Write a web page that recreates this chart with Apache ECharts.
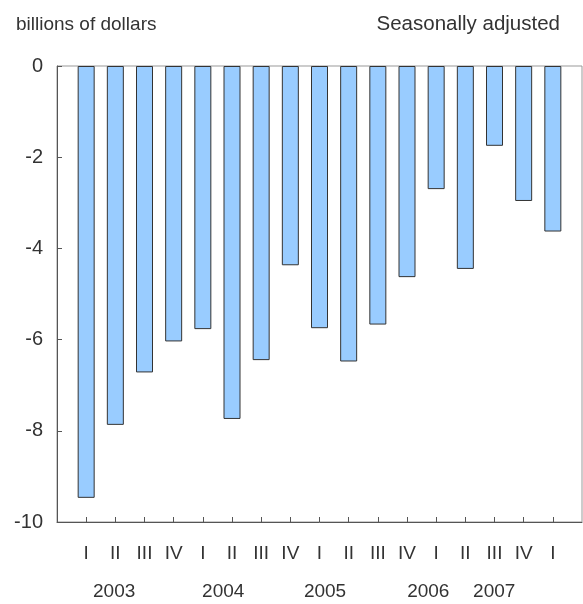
<!DOCTYPE html>
<html>
<head>
<meta charset="utf-8">
<script src="https://cdn.jsdelivr.net/npm/echarts@6/dist/echarts.min.js"></script>
<style>
html,body{margin:0;padding:0;background:#fff;}
#chart{width:583px;height:604px;}
</style>
</head>
<body>
<div id="chart"></div>
<script>
const quarters = ['I','II','III','IV','I','II','III','IV','I','II','III','IV','I','II','III','IV','I'];
const values = [-9.47,-7.87,-6.72,-6.04,-5.77,-7.74,-6.45,-4.37,-5.75,-6.48,-5.67,-4.63,-2.70,-4.45,-1.75,-2.96,-3.63];
const years = ['2003','2004','2005','2006','2007'];
const yearPos = [0.96,4.70,8.19,11.73,13.99];
const yTicks = [0,-2,-4,-6,-8,-10];

const FONT = 'Liberation Sans, Arial, sans-serif';
const chart = echarts.init(document.getElementById('chart'), null, {renderer:'canvas'});
const idx = quarters.map((q,i)=>i);
chart.setOption({
  animation:false,
  backgroundColor:'#fff',
  title:[
    {text:'billions of dollars', left:11, top:10, textStyle:{fontFamily:FONT,fontSize:19,fontWeight:'normal',color:'#333'}},
    {text:'Seasonally adjusted', right:18, top:9, textStyle:{fontFamily:FONT,fontSize:20.5,fontWeight:'normal',color:'#333'}}
  ],
  grid:{left:57,right:1,top:66,bottom:82,show:true,borderColor:'#999',borderWidth:1,backgroundColor:'transparent'},
  xAxis:[
    {type:'value',min:-1,max:17,position:'bottom',
     splitLine:{show:false},
     axisLine:{show:true,onZero:false,lineStyle:{color:'#555',width:1}},
     axisTick:{show:true,inside:true,length:5,customValues:idx,lineStyle:{color:'#555'}},
     axisLabel:{customValues:idx,margin:22,fontFamily:FONT,fontSize:19,color:'#333',
       formatter:function(v){return quarters[Math.round(v)];}}},
    {type:'value',min:-1,max:17,position:'bottom',
     splitLine:{show:false},
     axisLine:{show:false,onZero:false},axisTick:{show:false},
     axisLabel:{customValues:yearPos,margin:60,fontFamily:FONT,fontSize:19,color:'#333',
       formatter:function(v){const k=yearPos.indexOf(v);return k>=0?years[k]:'';}}}
  ],
  yAxis:{type:'value',min:-10,max:0,interval:2,
    splitLine:{show:false},
    axisLine:{show:true,onZero:false,lineStyle:{color:'#555',width:1}},
    axisTick:{show:true,inside:true,length:5,lineStyle:{color:'#555'}},
    axisLabel:{margin:14,fontFamily:FONT,fontSize:20,color:'#333',
      formatter:function(v){return yTicks.indexOf(v)>=0?String(v):'';}}},
  series:[{
    type:'bar',
    xAxisIndex:0,
    barWidth:17,
    data:values.map((v,i)=>[i,v]),
    itemStyle:{color:'#99CCFF',borderColor:'#333',borderWidth:1}
  }]
});
</script>
</body>
</html>
